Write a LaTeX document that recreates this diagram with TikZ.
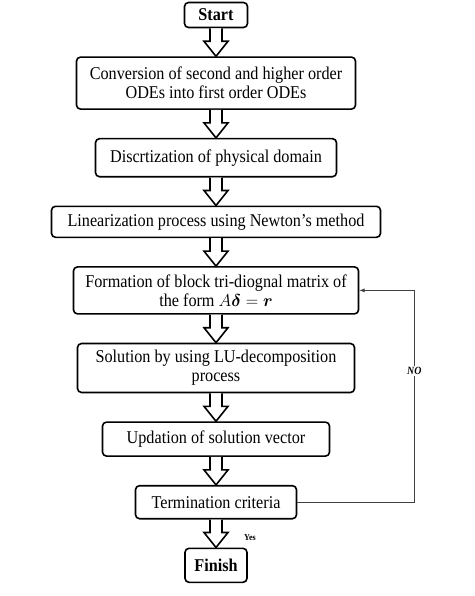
\documentclass[tikz,border=0pt]{standalone}
\usepackage{fontspec}
\setmainfont{Liberation Serif}[FakeStretch=0.9]
\usepackage{amsmath}
\usetikzlibrary{shapes,arrows,calc,positioning,arrows.meta}

% hollow block arrow from one box down to the next
\newcommand{\blockarrow}[2]{%
  \draw[line width=1.6pt,fill=white,line join=miter]
    ($(#1.south)+(-6pt,0)$) -- ++(0,-13pt) -- ++(-6pt,0) -- (#2.north)
    -- ($(#1.south)+(12pt,-13pt)$) -- ++(-6pt,0) -- ++(0,13pt);}

\begin{document}
\begin{tikzpicture}[
    >=latex,node distance=28pt,
    box/.style={draw,rounded corners=4pt,line width=1.6pt,align=center,inner xsep=4pt,inner ysep=2pt,font=\fontsize{18}{19}\selectfont},
    endbox/.style={box,font=\fontsize{18}{19}\selectfont\bfseries}]
    \useasboundingbox (0,0) rectangle (474pt,-596pt);
    \node[endbox,minimum width=63pt,minimum height=25pt] (B0) at (216pt,-15pt) {Start};
    \node[box,minimum width=279pt,minimum height=52pt] (B1) [below=of B0] {Conversion of second and higher order\\ODEs into first order ODEs};
    \node[box,minimum width=241pt,minimum height=38pt] (B2) [below=of B1] {Discrtization of physical domain};
    \node[box,minimum width=329pt,minimum height=31pt] (B3) [below=of B2] {Linearization process using Newton's method};
    \node[box,minimum width=285pt,minimum height=47pt] (B4) [below=of B3] {Formation of block tri-diognal matrix of\\the form $A\boldsymbol{\delta}=\boldsymbol{r}$};
    \node[box,minimum width=277pt,minimum height=49pt] (B5) [below=of B4] {Solution by using LU-decomposition\\process};
    \node[box,minimum width=227pt,minimum height=34pt] (B6) [below=of B5] {Updation of solution vector};
    \node[box,minimum width=161pt,minimum height=33pt] (B7) [below=of B6] {Termination criteria};
    \node[endbox,minimum width=62pt,minimum height=34pt] (B8) [below=of B7] {Finish};

    \blockarrow{B0}{B1}
    \blockarrow{B1}{B2}
    \blockarrow{B2}{B3}
    \blockarrow{B3}{B4}
    \blockarrow{B4}{B5}
    \blockarrow{B5}{B6}
    \blockarrow{B6}{B7}
    \blockarrow{B7}{B8}

    \node[font=\fontsize{9}{10}\selectfont\bfseries] (yes) at ($(B7.south)+(34pt,-18pt)$) {Yes};
    \coordinate (loop) at ($(B7.east)+(117pt,0)$);
    \draw[->,line width=0.8pt,black!75] (B7.east) -- (loop) |- node[pos=0.31,fill=white,text=black,inner sep=1pt,font=\fontsize{11}{12}\selectfont\bfseries\itshape] {NO} (B4.east);
\end{tikzpicture}
\end{document}
